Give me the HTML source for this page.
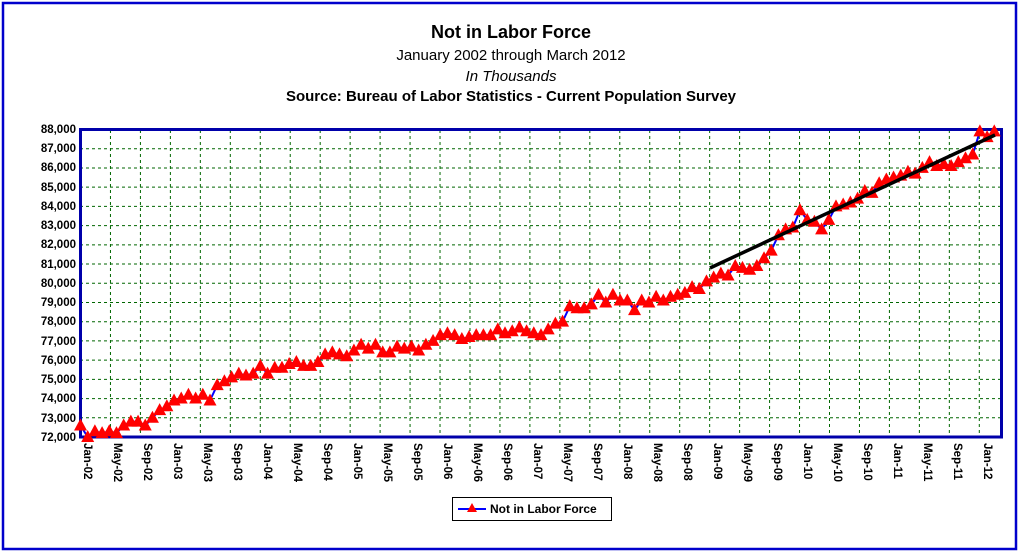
<!DOCTYPE html>
<html><head><meta charset="utf-8"><style>
body{margin:0;background:#fff}
svg{display:block;font-family:"Liberation Sans",Arial,sans-serif}
</style></head><body>
<svg width="1020" height="553" viewBox="0 0 1020 553">
<rect x="3" y="3" width="1013" height="546" fill="#fff" stroke="#0000cc" stroke-width="2.5"/>
<text x="511" y="38" font-size="18" font-weight="bold" text-anchor="middle">Not in Labor Force</text>
<text x="511" y="60" font-size="15" text-anchor="middle">January 2002 through March 2012</text>
<text x="511" y="81" font-size="15" font-style="italic" text-anchor="middle">In Thousands</text>
<text x="511" y="101" font-size="15" font-weight="bold" text-anchor="middle">Source: Bureau of Labor Statistics - Current Population Survey</text>
<g id="grid" stroke="#006600" stroke-width="1" stroke-dasharray="3,3"></g>
<g font-size="11.5" font-weight="bold" text-anchor="end">
<text x="76" y="133">88,000</text><text x="76" y="152">87,000</text><text x="76" y="171">86,000</text><text x="76" y="191">85,000</text>
<text x="76" y="210">84,000</text><text x="76" y="229">83,000</text><text x="76" y="248">82,000</text><text x="76" y="268">81,000</text>
<text x="76" y="287">80,000</text><text x="76" y="306">79,000</text><text x="76" y="325">78,000</text><text x="76" y="345">77,000</text>
<text x="76" y="364">76,000</text><text x="76" y="383">75,000</text><text x="76" y="402">74,000</text><text x="76" y="422">73,000</text>
<text x="76" y="441">72,000</text>
</g>
<g id="xl" font-size="11.5" font-weight="bold">
<text transform="translate(84,443) rotate(90)">Jan-02</text>
<text transform="translate(114,443) rotate(90)">May-02</text>
<text transform="translate(144,443) rotate(90)">Sep-02</text>
<text transform="translate(174,443) rotate(90)">Jan-03</text>
<text transform="translate(204,443) rotate(90)">May-03</text>
<text transform="translate(234,443) rotate(90)">Sep-03</text>
<text transform="translate(264,443) rotate(90)">Jan-04</text>
<text transform="translate(294,443) rotate(90)">May-04</text>
<text transform="translate(324,443) rotate(90)">Sep-04</text>
<text transform="translate(354,443) rotate(90)">Jan-05</text>
<text transform="translate(384,443) rotate(90)">May-05</text>
<text transform="translate(414,443) rotate(90)">Sep-05</text>
<text transform="translate(444,443) rotate(90)">Jan-06</text>
<text transform="translate(474,443) rotate(90)">May-06</text>
<text transform="translate(504,443) rotate(90)">Sep-06</text>
<text transform="translate(534,443) rotate(90)">Jan-07</text>
<text transform="translate(564,443) rotate(90)">May-07</text>
<text transform="translate(594,443) rotate(90)">Sep-07</text>
<text transform="translate(624,443) rotate(90)">Jan-08</text>
<text transform="translate(654,443) rotate(90)">May-08</text>
<text transform="translate(684,443) rotate(90)">Sep-08</text>
<text transform="translate(714,443) rotate(90)">Jan-09</text>
<text transform="translate(744,443) rotate(90)">May-09</text>
<text transform="translate(774,443) rotate(90)">Sep-09</text>
<text transform="translate(804,443) rotate(90)">Jan-10</text>
<text transform="translate(834,443) rotate(90)">May-10</text>
<text transform="translate(864,443) rotate(90)">Sep-10</text>
<text transform="translate(894,443) rotate(90)">Jan-11</text>
<text transform="translate(924,443) rotate(90)">May-11</text>
<text transform="translate(954,443) rotate(90)">Sep-11</text>
<text transform="translate(984,443) rotate(90)">Jan-12</text>
</g>
<rect x="80.5" y="129.5" width="921" height="307.5" fill="none" stroke="#0000aa" stroke-width="3"/>
<polyline id="ln" fill="none" stroke="#0000ff" stroke-width="2"/>
<g id="mk" fill="#ff0000"></g>
<line x1="710" y1="268" x2="995" y2="135" stroke="#000" stroke-width="3.5"/>
<rect x="452.5" y="497.5" width="159" height="23" fill="#fff" stroke="#000" stroke-width="1"/>
<line x1="458" y1="509" x2="486" y2="509" stroke="#0000ff" stroke-width="2"/>
<polygon points="472,503 477,512 467,512" fill="#ff0000"/>
<text x="490" y="513" font-size="12" font-weight="bold">Not in Labor Force</text>
</svg>
<script>
var d=[72.6,72.0,72.3,72.2,72.3,72.2,72.6,72.8,72.8,72.6,73.0,73.4,
73.6,73.9,74.0,74.2,74.0,74.2,73.9,74.7,74.9,75.1,75.3,75.2,
75.3,75.7,75.3,75.6,75.6,75.8,75.9,75.7,75.7,75.9,76.3,76.4,
76.3,76.2,76.5,76.8,76.6,76.8,76.4,76.4,76.7,76.6,76.7,76.5,
76.8,77.0,77.3,77.4,77.3,77.1,77.2,77.3,77.3,77.3,77.6,77.4,
77.5,77.7,77.5,77.4,77.3,77.6,77.9,78.0,78.8,78.7,78.7,78.9,
79.4,79.0,79.4,79.1,79.1,78.6,79.1,79.0,79.3,79.1,79.3,79.4,
79.5,79.8,79.7,80.1,80.3,80.5,80.4,80.9,80.8,80.7,80.9,81.3,
81.7,82.5,82.8,82.9,83.8,83.3,83.2,82.8,83.3,84.0,84.1,84.2,
84.4,84.8,84.7,85.2,85.4,85.5,85.6,85.8,85.7,86.0,86.3,86.1,
86.2,86.1,86.3,86.5,86.7,87.9,87.6,87.9];
var g=document.getElementById('grid'),s='';
for(var i=1;i<16;i++){var y=129.5+i*307.5/16;s+='<line x1="80" x2="1001" y1="'+y+'" y2="'+y+'"/>';}
for(var m=4;m<=120;m+=4){var x=80.5+m*7.49;s+='<line y1="130" y2="437" x1="'+x+'" x2="'+x+'"/>';}
g.innerHTML=s;
var p=[],mk='';
d.forEach(function(v,i){var x=80.5+i*7.49*(122/(d.length-1)),y=437-(v-72)*19.22;p.push(x+','+y);
mk+='<polygon points="'+x+','+(y-7)+' '+(x+6.5)+','+(y+5)+' '+(x-6.5)+','+(y+5)+'"/>';});
document.getElementById('ln').setAttribute('points',p.join(' '));
document.getElementById('mk').innerHTML=mk;
</script>
</body></html>
